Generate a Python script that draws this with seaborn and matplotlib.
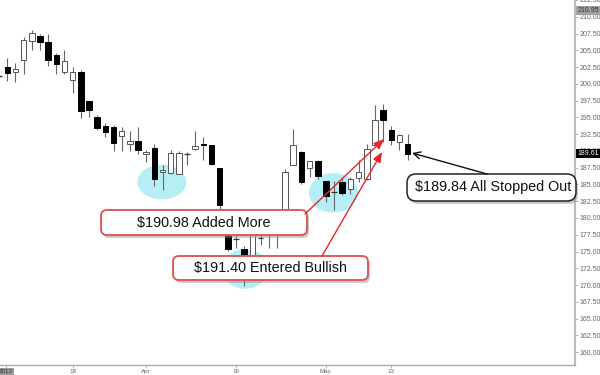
import numpy as np
import pandas as pd
import seaborn as sns
import matplotlib
matplotlib.use("Agg")
import matplotlib.pyplot as plt
from matplotlib.patches import Ellipse, FancyBboxPatch, FancyArrowPatch
from matplotlib.transforms import IdentityTransform

# ---------------- data ----------------
opens = [201.15, 202.48, 201.74, 203.51, 206.46, 207.20, 206.31, 204.25, 201.74, 200.56,
         201.74, 197.47, 195.10, 193.78, 193.63, 192.15, 190.97, 191.42, 189.50, 190.38,
         186.84, 186.70, 186.55, 189.50, 190.24, 190.97, 190.83, 187.43, 178.29, 176.81,
         175.34, 173.27, 176.96, 177.70, 177.99, 178.00, 187.88, 189.79, 187.43, 188.47,
         185.52, 183.89, 185.37, 184.34, 185.96, 185.81, 190.83, 196.14, 193.18, 191.27,
         190.97]
highs = [201.40, 203.80, 203.07, 207.05, 208.08, 207.49, 207.49, 204.54, 204.99, 202.48,
         202.04, 197.47, 195.40, 194.22, 193.92, 193.63, 193.04, 193.63, 190.09, 190.97,
         187.88, 190.09, 189.94, 189.79, 193.04, 192.01, 190.83, 187.43, 178.73, 178.00,
         175.78, 179.76, 178.29, 178.58, 178.73, 187.29, 193.33, 189.94, 188.47, 188.61,
         185.52, 185.52, 185.96, 186.11, 188.61, 190.97, 196.87, 197.02, 193.78, 192.45,
         192.45]
lows = [200.90, 200.41, 200.27, 201.45, 204.99, 204.99, 202.63, 201.45, 201.45, 198.64,
        194.96, 195.10, 193.18, 192.01, 189.94, 189.94, 189.94, 189.50, 188.32, 184.78,
        184.19, 186.55, 186.55, 187.88, 190.09, 188.61, 187.88, 180.95, 175.04, 175.49,
        169.88, 172.83, 175.93, 175.49, 175.49, 177.70, 187.88, 185.07, 186.11, 185.81,
        182.42, 181.24, 183.45, 183.60, 185.37, 185.66, 190.83, 191.27, 190.83, 190.09,
        188.61]
closes = [201.15, 201.59, 202.18, 206.61, 207.64, 206.31, 203.51, 202.92, 203.36, 201.74,
          195.99, 196.14, 193.48, 192.89, 191.12, 193.04, 191.42, 190.09, 189.79, 185.81,
          187.14, 189.65, 189.65, 189.50, 190.68, 190.83, 188.02, 181.98, 175.34, 176.81,
          173.27, 179.17, 176.96, 177.70, 177.99, 186.84, 190.83, 185.37, 188.47, 186.25,
          183.30, 183.89, 183.75, 185.81, 186.84, 190.24, 194.66, 194.66, 191.56, 192.30,
          189.61]

# trading-day index of the date labels (Mar 18, Apr 1, Apr 16, May 1, May 13)
x_tick_pos = [0.84, 9, 18, 29, 40, 48]
x_tick_labels = ["2013", "18", "Apr", "16", "May", "13"]
y_ticks = np.arange(160, 212.6, 2.5)

last_high_tag = 210.95
last_price_tag = 189.61

notes = ["$190.98 Added More", "$191.40 Entered Bullish", "$189.84 All Stopped Out"]

df = pd.DataFrame({"o": opens, "h": highs, "l": lows, "c": closes})
df["i"] = np.arange(len(df))

# ---------------- figure ----------------
sns.set_theme(style="white")
plt.rcParams["font.family"] = ["Liberation Sans", "DejaVu Sans"]

W, H = 600, 375
fig = plt.figure(figsize=(W / 100, H / 100), dpi=100)
fig.patch.set_facecolor("white")
AX_R = 575
ax = fig.add_axes([0, 10 / H, AX_R / W, 365 / H])
ax.set_facecolor("white")

# highlight ellipses (under candles)
ell_color = "#a8ecf4"
for (cx, cy, w, h) in [(19.93, 185.37, 6.0, 5.16), (30.09, 172.39, 5.63, 5.9), (40.93, 183.75, 6.0, 5.9)]:
    ax.add_patch(Ellipse((cx, cy), w, h, facecolor=ell_color, edgecolor="none", alpha=0.85, zorder=1))

# wicks
ax.vlines(df["i"], df["l"], df["h"], colors="#666666", linewidth=0.8, zorder=2)

# bodies
bw = 0.68
up = df[df["c"] > df["o"]]
dn = df[df["c"] < df["o"]]
dj = df[df["c"] == df["o"]]
ax.bar(up["i"], up["c"] - up["o"], bottom=up["o"], width=bw, color="white",
       edgecolor="#555555", linewidth=0.7, zorder=3)
ax.bar(dn["i"], dn["o"] - dn["c"], bottom=dn["c"], width=bw, color="black",
       edgecolor="black", linewidth=0.7, zorder=3)
ax.hlines(dj["c"], dj["i"] - bw / 2, dj["i"] + bw / 2, colors="#333333", linewidth=0.9, zorder=3)

# axes
px_per_bar = 8.17
ax.set_xlim(1 - 7.3 / px_per_bar, 1 + (AX_R - 7.3) / px_per_bar)
ax.set_ylim(158.08, 211.92)
ax.yaxis.tick_right()
ax.set_yticks(y_ticks)
ax.set_yticklabels([f"{v:.2f}" for v in y_ticks])
ax.set_xticks(x_tick_pos)
ax.set_xticklabels(x_tick_labels)
ax.tick_params(axis="y", right=True, length=2, width=0.5, color="#999999",
               labelsize=5, labelcolor="#666666", pad=1)
ax.tick_params(axis="x", bottom=True, length=2, width=0.5, color="#999999",
               labelsize=4.5, labelcolor="#666666", pad=0.8)
for s in ["top", "left"]:
    ax.spines[s].set_visible(False)
ax.spines["right"].set_color("#bbbbbb")
ax.spines["right"].set_linewidth(1.5)
ax.spines["bottom"].set_color("#aaaaaa")
ax.spines["bottom"].set_linewidth(1.0)
lbl0 = ax.get_xticklabels()[0]
lbl0.set_bbox(dict(facecolor="#9a9a9a", edgecolor="none", pad=0.5))
lbl0.set_color("#333333")

# price tags on axis
ytr = ax.get_yaxis_transform()
ax.text(1.004, last_high_tag, f"{last_high_tag:.2f}", transform=ytr, fontsize=5, color="#333333",
        ha="left", va="center", bbox=dict(facecolor="#a0a0a0", edgecolor="none", pad=0.6),
        clip_on=False, zorder=10)
ax.text(1.004, last_price_tag, f"{last_price_tag:.2f}", transform=ytr, fontsize=5, color="white",
        ha="left", va="center", bbox=dict(facecolor="black", edgecolor="none", pad=0.6),
        clip_on=False, zorder=10)

# ---------------- annotations (figure pixels) ----------------
idt = IdentityTransform()


def box(x0, y0, x1, y1, edge, rs, lw):
    sh = FancyBboxPatch((x0 + 2, H - y1 - 3), x1 - x0, y1 - y0,
                        boxstyle=f"round,pad=0,rounding_size={rs}", transform=idt,
                        facecolor="#8a8a8a", edgecolor="none", alpha=0.45, zorder=4)
    fig.add_artist(sh)
    b = FancyBboxPatch((x0, H - y1), x1 - x0, y1 - y0,
                       boxstyle=f"round,pad=0,rounding_size={rs}", transform=idt,
                       facecolor="white", edgecolor=edge, linewidth=lw, zorder=5)
    fig.add_artist(b)


def arrow(p0, p1, color, style):
    a = FancyArrowPatch((p0[0], H - p0[1]), (p1[0], H - p1[1]), transform=idt,
                        arrowstyle=style, color=color, linewidth=1.0, zorder=6,
                        shrinkA=0, shrinkB=0)
    fig.add_artist(a)


arrow((305, 214), (384, 139), "#e8262a", "-|>,head_length=6,head_width=2.5")
arrow((322, 256), (382, 152), "#e8262a", "-|>,head_length=6,head_width=2.5")

box(101, 210, 307, 235, "#e05858", 6, 1.4)
box(173, 256, 368, 280, "#e05858", 6, 1.4)
box(407, 174, 576, 201, "#222222", 9, 1.1)

arrow((487, 174), (412, 153), "#111111", "->,head_length=5,head_width=2.5")

fig.text(203.5 / W, 1 - 222.5 / H, notes[0], fontsize=10.4, ha="center", va="center", color="#111111", zorder=7)
fig.text(270 / W, 1 - 268 / H, notes[1], fontsize=10.4, ha="center", va="center", color="#111111", zorder=7)
fig.text(493 / W, 1 - 187.5 / H, notes[2], fontsize=10.4, ha="center", va="center", color="#111111", zorder=7)

fig.savefig("out.png", dpi=100)
